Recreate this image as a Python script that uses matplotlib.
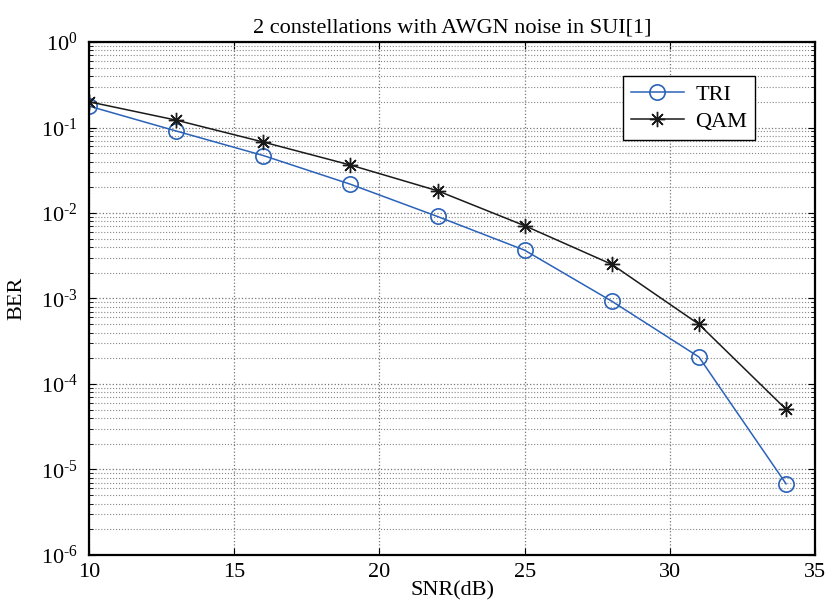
import numpy as np
import matplotlib
matplotlib.use('Agg')
import matplotlib.pyplot as plt
from matplotlib.ticker import LogLocator, NullFormatter, FuncFormatter

# data
snr = [10, 13, 16, 19, 22, 25, 28, 31, 34]
ber_tri = [0.178, 0.091, 0.047, 0.0217, 0.0091, 0.00367, 0.00093, 2.07e-4, 6.8e-6]
ber_qam = [0.20, 0.122, 0.0676, 0.0364, 0.0182, 0.0071, 0.00251, 5.0e-4, 5.06e-5]

plt.rcParams['font.family'] = ['Liberation Serif', 'DejaVu Serif']
plt.rcParams['mathtext.fontset'] = 'custom'
plt.rcParams['mathtext.rm'] = 'Liberation Serif'

fig = plt.figure(figsize=(8.27, 6.07), dpi=100)
ax = fig.add_axes([0.1076, 0.0857, 0.878, 0.8451])

ax.semilogy(snr, ber_tri, '-o', color='#2a62b8', lw=1.1, markersize=11,
            markerfacecolor='none', markeredgewidth=1.2, label='TRI')
ax.semilogy(snr, ber_qam, '-', marker=(8, 2, 0), color='#1a1a1a', lw=1.1,
            markersize=11, markeredgewidth=1.0, label='QAM')

ax.set_xlim(10, 35)
ax.set_ylim(1e-6, 1)
ax.set_xticks([10, 15, 20, 25, 30, 35])
ax.yaxis.set_major_locator(LogLocator(base=10, numticks=10))
ax.yaxis.set_major_formatter(FuncFormatter(
    lambda v, p: r'$\mathregular{10^{\text{%d}}}$' % int(round(np.log10(v))) if v < 1
    else r'$\mathregular{10^{0}}$'))
ax.yaxis.set_minor_locator(LogLocator(base=10, subs=np.arange(2, 10), numticks=20))
ax.yaxis.set_minor_formatter(NullFormatter())

ax.grid(True, which='major', axis='both', color='#777777', linestyle=':', linewidth=0.9)
ax.grid(True, which='minor', axis='y', color='#888888', linestyle=':', linewidth=0.8)

ax.tick_params(which='both', direction='in', top=True, right=True, labelsize=16)
ax.tick_params(axis='y', pad=8)
ax.tick_params(axis='x', pad=6)
ax.tick_params(which='major', length=5)
ax.tick_params(which='minor', length=3)
for s in ax.spines.values():
    s.set_linewidth(1.6)

ax.set_title('2 constellations with AWGN noise in SUI[1]', fontsize=16, pad=7)
ax.set_xlabel('SNR(dB)', fontsize=16, labelpad=-1)
ax.set_ylabel('BER', fontsize=16, labelpad=10)

leg = ax.legend(loc='upper left', bbox_to_anchor=(0.72, 0.955), fontsize=16,
                fancybox=False, framealpha=1, edgecolor='black',
                handlelength=2.4, handletextpad=0.5, borderpad=0.35,
                labelspacing=0.3)
leg.get_frame().set_linewidth(1.0)

plt.savefig('out.png', dpi=100)
